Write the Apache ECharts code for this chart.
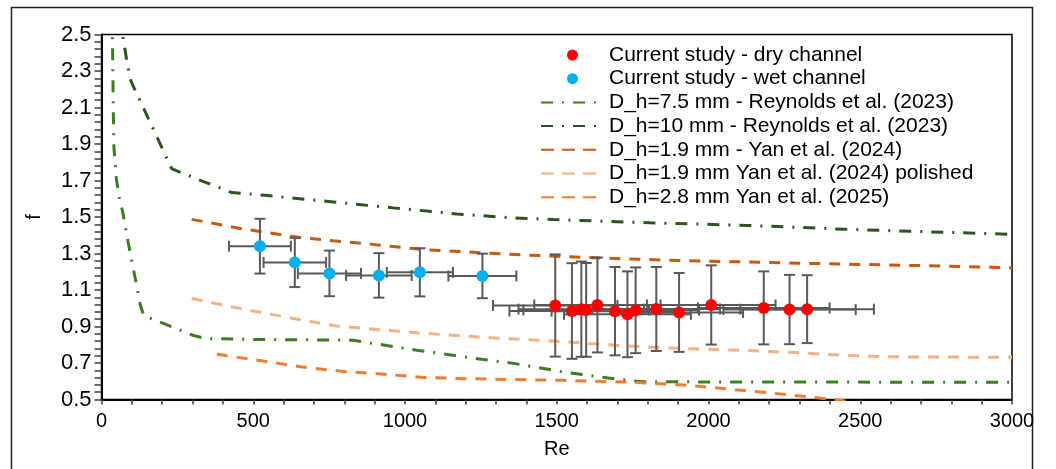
<!DOCTYPE html>
<html><head><meta charset="utf-8">
<script src="https://cdn.jsdelivr.net/npm/echarts@6/dist/echarts.min.js"></script>
<style>html,body{margin:0;padding:0;background:#fff}#c{width:1056px;height:469px}</style>
</head><body><div id="c"></div>
<script>
// ---- tick labels ----
const xTickValues = [0, 500, 1000, 1500, 2000, 2500, 3000];
const yTickValues = [0.5, 0.7, 0.9, 1.1, 1.3, 1.5, 1.7, 1.9, 2.1, 2.3, 2.5];

// ---- series names ----
const names = [
  'Current study - dry channel',
  'Current study - wet channel',
  'D_h=7.5 mm - Reynolds et al. (2023)',
  'D_h=10 mm - Reynolds et al. (2023)',
  'D_h=1.9 mm - Yan et al. (2024)',
  'D_h=1.9 mm Yan et al. (2024) polished',
  'D_h=2.8 mm Yan et al. (2025)'
];

// ---- current study, dry channel ----
const dryRe   = [1495, 1550, 1581, 1597, 1634, 1692, 1733, 1760, 1828, 1903, 2009, 2182, 2267, 2325];
const dryF    = [1.015, 0.985, 0.995, 0.991, 1.018, 0.984, 0.967, 0.989, 0.996, 0.977, 1.018, 1.002, 0.993, 0.995];
const dryReErr = [205, 206, 207, 207, 208, 209, 209, 209, 210, 211, 212, 217, 218, 220];
const dryFErr  = [0.28, 0.262, 0.261, 0.257, 0.26, 0.242, 0.235, 0.235, 0.23, 0.216, 0.217, 0.2, 0.19, 0.186];

// ---- current study, wet channel ----
const wetRe   = [522, 637, 751, 914, 1049, 1255];
const wetF    = [1.34, 1.251, 1.191, 1.18, 1.197, 1.177];
const wetReErr = [102, 103, 104, 108, 109, 112];
const wetFErr  = [0.15, 0.135, 0.125, 0.122, 0.132, 0.122];

// ---- Reynolds et al. (2023), D_h = 7.5 mm ----
const rey75Re = [35, 36, 39, 41, 49, 59, 69, 88, 108, 128, 140, 202, 266, 301, 341, 513, 829, 885, 1039, 1253, 1358, 1517, 1676, 1781, 3000];
const rey75F  = [2.6, 2.49, 2.07, 1.88, 1.71, 1.60, 1.535, 1.36, 1.19, 1.016, 0.958, 0.918, 0.876, 0.852, 0.834, 0.829, 0.825, 0.81, 0.77, 0.72, 0.698, 0.652, 0.616, 0.597, 0.594];

// ---- Reynolds et al. (2023), D_h = 10 mm ----
const rey10Re = [60, 70, 86, 97, 165, 231, 270, 330, 429, 484, 537, 748, 962, 1171, 1336, 1489, 1808, 2127, 2446, 3000];
const rey10F  = [2.6, 2.49, 2.33, 2.244, 2.002, 1.765, 1.738, 1.698, 1.634, 1.627, 1.619, 1.585, 1.55, 1.517, 1.497, 1.486, 1.468, 1.454, 1.433, 1.405];

// ---- Yan et al. (2024), D_h = 1.9 mm ----
const yan19Re = [297, 462, 660, 863, 1056, 1253, 1380, 1643, 1918, 2325, 2720, 3000];
const yan19F  = [1.487, 1.436, 1.386, 1.355, 1.322, 1.304, 1.293, 1.275, 1.261, 1.246, 1.233, 1.222];

// ---- Yan et al. (2024), D_h = 1.9 mm polished ----
const yanPolRe = [297, 440, 517, 632, 775, 907, 1044, 1182, 1314, 1512, 1643, 1852, 2116, 2302, 2434, 2589, 3000];
const yanPolF  = [1.053, 1.004, 0.98, 0.944, 0.903, 0.884, 0.865, 0.849, 0.836, 0.818, 0.802, 0.783, 0.769, 0.756, 0.743, 0.734, 0.731];

// ---- Yan et al. (2025), D_h = 2.8 mm ----
const yan28Re = [380, 528, 660, 797, 929, 1061, 1198, 1336, 1522, 1731, 1885, 2006, 2138, 2270, 2440, 2500];
const yan28F  = [0.748, 0.712, 0.678, 0.654, 0.639, 0.621, 0.614, 0.61, 0.605, 0.596, 0.583, 0.567, 0.546, 0.525, 0.495, 0.47];

const zip = (a, b) => a.map((v, i) => [v, b[i]]);
const zip4 = (a, b, c, d) => a.map((v, i) => [v, b[i], c[i], d[i]]);

const FONT = '"Liberation Sans", Arial, sans-serif';
const BAR = '#595959';

function errorBars(params, api) {
  const x = api.value(0), y = api.value(1), ex = api.value(2), ey = api.value(3);
  const l = api.coord([x - ex, y]);
  const r = api.coord([x + ex, y]);
  const t = api.coord([x, y + ey]);
  const b = api.coord([x, y - ey]);
  const cap = 5.5;
  const st = { stroke: BAR, lineWidth: 2, fill: null };
  const seg = (x1, y1, x2, y2) => ({ type: 'line', shape: { x1, y1, x2, y2 }, style: st });
  return {
    type: 'group',
    children: [
      seg(l[0], l[1], r[0], r[1]),
      seg(l[0], l[1] - cap, l[0], l[1] + cap),
      seg(r[0], r[1] - cap, r[0], r[1] + cap),
      seg(t[0], t[1], b[0], b[1]),
      seg(t[0] - cap, t[1], t[0] + cap, t[1]),
      seg(b[0] - cap, b[1], b[0] + cap, b[1])
    ]
  };
}

const dashed = [11, 9];
const dashDot = [12, 9, 2, 9];
const legendDashed = [13, 8];

function lineSeries(name, data, color, type) {
  return {
    name, type: 'line', data, symbol: 'none', showSymbol: false, z: 2,
    lineStyle: { color, width: 3, type, cap: 'butt' },
    itemStyle: { color },
    emphasis: { disabled: true }
  };
}

const hiddenSymbol = { opacity: 0, color: 'rgba(0,0,0,0)', borderWidth: 0 };

const chart = echarts.init(document.getElementById('c'), null, { renderer: 'canvas' });
chart.setOption({
  animation: false,
  backgroundColor: '#fff',
  textStyle: { fontFamily: FONT },
  graphic: [{
    type: 'rect', left: 9, top: 5, silent: true, z: 0,
    shape: { x: 0, y: 0, width: 1021, height: 500 },
    style: { fill: 'none', stroke: '#222', lineWidth: 1.5 }
  }],
  grid: {
    left: 101.5, right: 44, top: 34.5, bottom: 69.5,
    show: true, borderColor: '#000', borderWidth: 1.5, backgroundColor: 'transparent',
    containLabel: false, outerBoundsMode: 'none'
  },
  legend: {
    orient: 'vertical', left: 540, top: 44.5, padding: 0,
    itemWidth: 63, itemHeight: 11, itemGap: 2.7,
    textStyle: { fontSize: 21, color: '#000', fontFamily: FONT },
    data: [
      { name: names[0] },
      { name: names[1] },
      { name: names[2], itemStyle: hiddenSymbol },
      { name: names[3], itemStyle: hiddenSymbol },
      { name: names[4], itemStyle: hiddenSymbol, lineStyle: { type: legendDashed } },
      { name: names[5], itemStyle: hiddenSymbol, lineStyle: { type: legendDashed } },
      { name: names[6], itemStyle: hiddenSymbol, lineStyle: { type: legendDashed } }
    ],
    selectedMode: false
  },
  xAxis: {
    type: 'value', min: xTickValues[0], max: xTickValues[xTickValues.length - 1],
    interval: xTickValues[1] - xTickValues[0],
    name: 'Re', nameLocation: 'middle', nameGap: 40,
    nameTextStyle: { fontSize: 20, color: '#000', fontFamily: FONT },
    axisLine: { show: true, onZero: false, lineStyle: { color: '#000', width: 2 } },
    axisTick: { show: true, inside: false, length: 5, lineStyle: { color: '#404040', width: 1.5 } },
    minorTick: { show: true, splitNumber: 5, length: 5, lineStyle: { color: '#404040', width: 1.5 } },
    axisLabel: { fontSize: 20, color: '#000', margin: 12, fontFamily: FONT,
      formatter: v => xTickValues.includes(v) ? String(v) : '' },
    splitLine: { show: false }
  },
  yAxis: {
    type: 'value', min: yTickValues[0], max: yTickValues[yTickValues.length - 1],
    interval: +(yTickValues[1] - yTickValues[0]).toFixed(2),
    name: 'f', nameLocation: 'middle', nameGap: 57,
    nameTextStyle: { fontSize: 20, color: '#000', fontFamily: FONT },
    axisLine: { show: true, onZero: false, lineStyle: { color: '#000', width: 2 } },
    axisTick: { show: true, inside: false, length: 7, lineStyle: { color: '#404040', width: 1.5 } },
    minorTick: { show: true, splitNumber: 5, length: 7, lineStyle: { color: '#404040', width: 1.5 } },
    axisLabel: { fontSize: 22, color: '#000', margin: 10, fontFamily: FONT,
      formatter: v => (+v).toFixed(1) },
    splitLine: { show: false }
  },
  series: [
    lineSeries(names[2], zip(rey75Re, rey75F), '#3B7D23', dashDot),
    lineSeries(names[3], zip(rey10Re, rey10F), '#2B5519', dashDot),
    lineSeries(names[4], zip(yan19Re, yan19F), '#C55A11', dashed),
    lineSeries(names[5], zip(yanPolRe, yanPolF), '#F4B183', dashed),
    lineSeries(names[6], zip(yan28Re, yan28F), '#ED7D31', dashed),
    {
      name: 'wetErr', type: 'custom', renderItem: errorBars, z: 3, clip: false,
      encode: { x: 0, y: 1 }, data: zip4(wetRe, wetF, wetReErr, wetFErr), silent: true
    },
    {
      name: 'dryErr', type: 'custom', renderItem: errorBars, z: 3, clip: false,
      encode: { x: 0, y: 1 }, data: zip4(dryRe, dryF, dryReErr, dryFErr), silent: true
    },
    {
      name: names[1], type: 'scatter', data: zip(wetRe, wetF), symbol: 'circle', symbolSize: 12, z: 4,
      itemStyle: { color: '#00B0F0', opacity: 1 }
    },
    {
      name: names[0], type: 'scatter', data: zip(dryRe, dryF), symbol: 'circle', symbolSize: 12, z: 4,
      itemStyle: { color: '#FF0000', opacity: 1 }
    }
  ]
});
</script>
</body></html>
